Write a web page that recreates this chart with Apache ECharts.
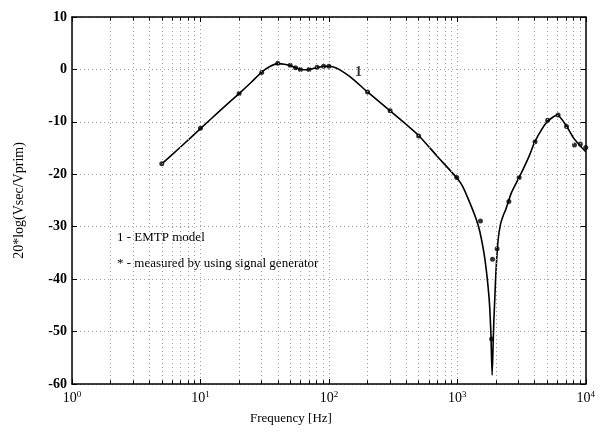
<!DOCTYPE html>
<html>
<head>
<meta charset="utf-8">
<script src="https://cdn.jsdelivr.net/npm/echarts@6/dist/echarts.min.js"></script>
<style>
  html, body { margin: 0; padding: 0; background: #fff; }
  #chart { width: 598px; height: 434px; }
</style>
</head>
<body>
<div id="chart"></div>
<script>
// EMTP model curve
const modelFreq = [5, 7, 10, 14, 20, 25, 30, 35, 40, 45, 50, 55, 60, 65, 70, 80, 90, 100, 110, 120, 150, 200, 300, 400, 500, 700, 1000, 1100, 1250, 1400, 1500, 1640, 1770, 1825, 1866, 1895, 1925, 1960, 2000, 2080, 2170, 2275, 2385, 2640, 3160, 3660, 4010, 5000, 6000, 7000, 8000, 9000, 10000];
const modelDb   = [-18, -14.8, -11.3, -8.0, -4.6, -2.4, -0.5, 0.6, 1.1, 1.0, 0.7, 0.3, 0.05, -0.05, 0.0, 0.3, 0.55, 0.6, 0.4, 0.0, -1.6, -4.3, -7.9, -10.5, -12.6, -16.6, -20.8, -22.3, -25.4, -28.5, -31.0, -36.2, -43.8, -50.2, -58.3, -53.5, -48.0, -43.5, -38.5, -32.4, -29.5, -27.9, -26.7, -23.5, -19.7, -16.3, -13.8, -10.0, -8.7, -10.6, -13.0, -14.5, -15.7];

// measured by using signal generator
const measFreq = [5, 10, 20, 30, 40, 50, 55, 60, 70, 81, 91, 100, 200, 300, 500, 990, 1514, 1850, 1880, 2040, 2520, 3030, 4030, 5050, 6090, 7080, 8170, 9080, 10000];
const measDb   = [-18, -11.2, -4.6, -0.6, 1.2, 0.8, 0.3, 0, 0, 0.4, 0.6, 0.6, -4.3, -7.9, -12.7, -20.6, -28.9, -51.4, -36.2, -34.2, -25.2, -20.6, -13.8, -9.7, -8.7, -10.9, -14.4, -14.2, -14.9];

// axes
const decades = [1, 10, 100, 1000];
const minorSteps = [2, 3, 4, 5, 6, 7, 8, 9];
const xExponents = ['0', '1', '2', '3', '4'];
const yMin = -60, yMax = 10, yStep = 10;

const minorFreqs = [];
decades.forEach(d => minorSteps.forEach(m => minorFreqs.push(d * m)));

const serif = 'Liberation Serif';
const gridDot = { color: '#a0a0a0', width: 1, type: [1, 3] };

const chart = echarts.init(document.getElementById('chart'));

const xAxisBase = {
    type: 'log',
    logBase: 10,
    min: 1,
    max: 10000,
    axisLine: { show: true, onZero: false, lineStyle: { color: '#000', width: 1.5 } },
    axisTick: { show: true, inside: true, length: 5, lineStyle: { color: '#000' } },
    splitLine: { show: false }
};
const yAxisBase = {
    type: 'value',
    min: yMin,
    max: yMax,
    interval: yStep,
    axisLine: { show: true, onZero: false, lineStyle: { color: '#000', width: 1.5 } },
    axisTick: { show: true, inside: true, length: 5, lineStyle: { color: '#000' } },
    splitLine: { show: false }
};

const tickSeg = (f, y0, y1) => [{ coord: [f, y0] }, { coord: [f, y1] }];

chart.setOption({
    animation: false,
    textStyle: { fontFamily: serif },
    grid: { left: 72, right: 12, top: 17, bottom: 50 },
    xAxis: [
        Object.assign({}, xAxisBase, {
            position: 'bottom',
            splitLine: { show: true, lineStyle: gridDot },
            axisLabel: {
                margin: 6,
                fontFamily: serif,
                fontSize: 14,
                color: '#000',
                formatter: v => '10{s|' + xExponents[Math.round(Math.log10(v))] + '}',
                rich: { s: { fontFamily: serif, fontSize: 9, color: '#000', verticalAlign: 'top', padding: [0, 0, 8, 0] } }
            }
        }),
        Object.assign({}, xAxisBase, { position: 'top', axisLabel: { show: false } })
    ],
    yAxis: [
        Object.assign({}, yAxisBase, {
            position: 'left',
            splitLine: { show: true, lineStyle: gridDot },
            axisLabel: { margin: 5, fontFamily: serif, fontSize: 14, color: '#000', fontWeight: 'bold' },
            name: '20*log(Vsec/Vprim)',
            nameLocation: 'middle',
            nameGap: 46,
            nameTextStyle: { fontFamily: serif, fontSize: 14, color: '#000' }
        }),
        Object.assign({}, yAxisBase, { position: 'right', axisLabel: { show: false } })
    ],
    graphic: [
        { type: 'text', left: 250, top: 412, style: { text: 'Frequency [Hz]', font: '13px "Liberation Serif"', fill: '#000' } },
        { type: 'text', left: 117, top: 231, style: { text: '1 - EMTP model', font: '13px "Liberation Serif"', fill: '#000' } },
        { type: 'text', left: 117, top: 257, style: { text: '* - measured by using signal generator', font: '13px "Liberation Serif"', fill: '#000' } }
    ],
    series: [
        {
            name: 'grid',
            type: 'line',
            data: [],
            silent: true,
            markLine: {
                silent: true,
                symbol: 'none',
                label: { show: false },
                animation: false,
                lineStyle: gridDot,
                data: minorFreqs.map(f => ({ xAxis: f }))
            }
        },
        {
            name: 'ticks',
            type: 'line',
            data: [],
            silent: true,
            markLine: {
                silent: true,
                symbol: 'none',
                label: { show: false },
                animation: false,
                lineStyle: { color: '#000', width: 1, type: 'solid' },
                data: minorFreqs.map(f => tickSeg(f, yMin, yMin + 0.7))
                    .concat(minorFreqs.map(f => tickSeg(f, yMax, yMax - 0.7)))
            }
        },
        {
            name: 'EMTP model',
            type: 'line',
            data: modelFreq.map((f, i) => [f, modelDb[i]]),
            showSymbol: false,
            smooth: 0.2,
            lineStyle: { color: '#000', width: 1.6 },
            z: 3
        },
        {
            name: 'measured',
            type: 'scatter',
            data: measFreq.map((f, i) => [f, measDb[i]]),
            symbol: 'circle',
            symbolSize: 5,
            itemStyle: { color: '#000' },
            z: 4
        },
        {
            name: 'curve label',
            type: 'scatter',
            data: [[170, -0.5]],
            symbolSize: 0,
            label: { show: true, formatter: '1', position: 'inside', fontFamily: serif, fontSize: 14, fontWeight: 'bold', color: '#000' }
        }
    ]
});
</script>
</body>
</html>
